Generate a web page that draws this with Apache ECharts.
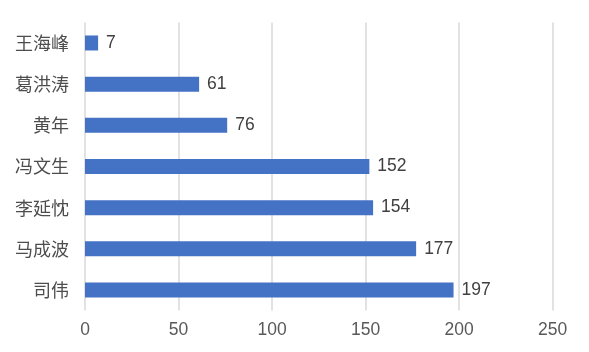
<!DOCTYPE html>
<html><head><meta charset="utf-8">
<script src="https://cdn.jsdelivr.net/npm/echarts@6/dist/echarts.min.js"></script>
<style>html,body{margin:0;padding:0;background:#fff}#c{width:589px;height:352px}</style>
</head><body><div id="c"></div>
<script>
const categories = ['王海峰','葛洪涛','黄年','冯文生','李延忱','马成波','司伟'];
const values = [7, 61, 76, 152, 154, 177, 197];
const xTicks = [0, 50, 100, 150, 200, 250];

const chart = echarts.init(document.getElementById('c'), null, {renderer:'canvas'});
const font = '"Noto Sans CJK SC", "Liberation Sans", sans-serif';
chart.setOption({
  animation: false,
  grid: {left: 85, right: 36.3, top: 22.4, bottom: 41.4, containLabel: false},
  xAxis: {
    type: 'value', min: xTicks[0], max: xTicks[xTicks.length-1], interval: 50,
    axisLine: {show: false}, axisTick: {show: false},
    splitLine: {show: true, lineStyle: {color: '#d9d9d9', width: 1.5}},
    axisLabel: {color: '#595959', fontSize: 17.5, fontFamily: '"Liberation Sans", Arial, sans-serif', margin: 11}
  },
  yAxis: {
    type: 'category', data: categories, inverse: true,
    axisLine: {show: false}, axisTick: {show: false},
    axisLabel: {color: '#4d4d4d', fontSize: 18, fontFamily: font, margin: 16}
  },
  series: [{
    type: 'bar', data: values, barWidth: 15,
    itemStyle: {color: '#4472C4'},
    label: {show: true, position: 'right', distance: 8, color: '#404040', fontSize: 17.5,
            fontFamily: '"Liberation Sans", Arial, sans-serif'}
  }]
});
</script></body></html>
